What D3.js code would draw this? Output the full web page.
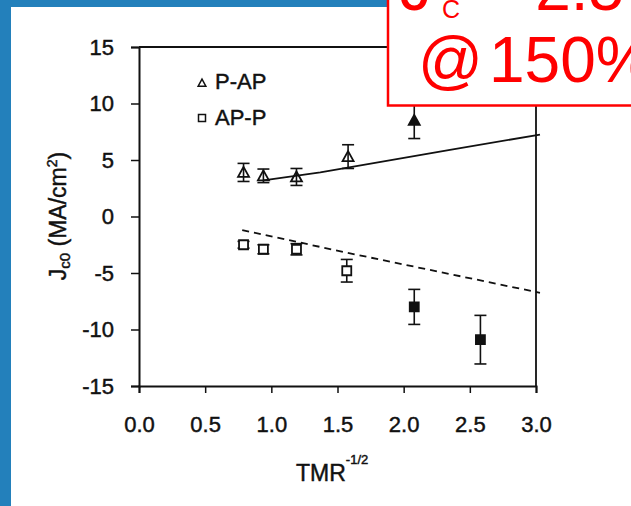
<!DOCTYPE html>
<html>
<head>
<meta charset="utf-8">
<script src="https://cdn.jsdelivr.net/npm/d3@7"></script>
<style>
  body { margin: 0; background: #fff; }
  svg { display: block; }
  text { font-family: "Liberation Sans", Arial, sans-serif; }
  .ink-text { stroke: #111; stroke-width: 0.45px; }
</style>
</head>
<body>
<svg id="chart" width="631" height="506"></svg>
<script>
// Axis ticks
const xTicks = [0, 0.5, 1, 1.5, 2, 2.5, 3];
const yTicks = [-15, -10, -5, 0, 5, 10, 15];

// P-AP switching (triangles): TMR^-1/2, Jc0 (MA/cm^2), error, filled marker
const pApX = [0.79, 0.94, 1.19, 1.58, 2.08];
const pApY = [3.9, 3.6, 3.5, 5.3, 8.5];
const pApErr = [0.8, 0.6, 0.75, 1.05, 1.6];
const pApFilled = [false, false, false, false, true];

// AP-P switching (squares)
const apPX = [0.79, 0.94, 1.19, 1.57, 2.08, 2.58];
const apPY = [-2.5, -2.9, -2.9, -4.8, -8.0, -10.9];
const apPErr = [0.3, 0.4, 0.5, 1.0, 1.55, 2.15];
const apPFilled = [false, false, false, false, true, true];

// Model curves
const pApFitX = [0.94, 1.37, 2.35, 3.03];
const pApFitY = [3.2, 3.9, 5.9, 7.25];
const apPFitX = [0.78, 1.57, 3.03];
const apPFitY = [-1.2, -3.2, -6.75];

const svg = d3.select("#chart");
const W = 631, H = 506;

// Slide background with white panel
svg.append("rect").attr("width", W).attr("height", H).attr("fill", "#2380bb");
svg.append("rect").attr("x", 11).attr("y", 7).attr("width", W - 11).attr("height", H - 7).attr("fill", "#fff");

const x = d3.scaleLinear().domain([0, 3]).range([139, 536]);
const y = d3.scaleLinear().domain([-15, 15]).range([386, 47]);

const ink = "#111";

// Frame (top and right)
svg.append("path")
  .attr("d", `M${x(0)},${y(15)}H${x(3)}V${y(-15)}`)
  .attr("fill", "none").attr("stroke", ink).attr("stroke-width", 1.8);

// Axes (plain hyphen for negative labels)
const yAxis = svg.append("g").attr("transform", `translate(${x(0)},0)`)
  .call(d3.axisLeft(y).tickValues(yTicks).tickSize(8).tickPadding(17).tickFormat(d => String(d)));
const xAxis = svg.append("g").attr("transform", `translate(0,${y(-15)})`)
  .call(d3.axisBottom(x).tickValues(xTicks).tickSize(7).tickPadding(23).tickFormat(d => d.toFixed(1)));
[yAxis, xAxis].forEach(g => {
  g.select(".domain").attr("stroke", ink).attr("stroke-width", 2);
  g.selectAll(".tick line").attr("stroke", ink).attr("stroke-width", 1.5);
  g.selectAll(".tick text").attr("fill", ink).attr("class", "ink-text").style("font-size", "22px")
    .style("font-family", '"Liberation Sans", Arial, sans-serif');
});

// Model curves
const line = d3.line().x(d => x(d[0])).y(d => y(d[1]));
svg.append("path")
  .attr("d", line(d3.zip(pApFitX, pApFitY)))
  .attr("fill", "none").attr("stroke", ink).attr("stroke-width", 1.8);
svg.append("path")
  .attr("d", line(d3.zip(apPFitX, apPFitY)))
  .attr("fill", "none").attr("stroke", ink).attr("stroke-width", 1.8)
  .attr("stroke-dasharray", "7,5");

// Error bars
function errorBars(xs, ys, es) {
  const g = svg.append("g").attr("stroke", ink).attr("stroke-width", 1.6);
  xs.forEach((xv, i) => {
    const cx = x(xv), top = y(ys[i] + es[i]), bot = y(ys[i] - es[i]);
    g.append("line").attr("x1", cx).attr("x2", cx).attr("y1", top).attr("y2", bot);
    g.append("line").attr("x1", cx - 6).attr("x2", cx + 6).attr("y1", top).attr("y2", top);
    g.append("line").attr("x1", cx - 6).attr("x2", cx + 6).attr("y1", bot).attr("y2", bot);
  });
}
errorBars(pApX, pApY, pApErr);
errorBars(apPX, apPY, apPErr);

const triPath = s => `M0,${-s * 0.55}L${s * 0.55},${s * 0.45}L${-s * 0.55},${s * 0.45}Z`;
const sqPath = s => `M${-s / 2},${-s / 2}h${s}v${s}h${-s}Z`;

// Markers
pApX.forEach((xv, i) => {
  svg.append("path").attr("d", triPath(10))
    .attr("transform", `translate(${x(xv)},${y(pApY[i])})`)
    .attr("fill", pApFilled[i] ? ink : "none").attr("stroke", ink).attr("stroke-width", 1.8);
});
apPX.forEach((xv, i) => {
  svg.append("path").attr("d", sqPath(9))
    .attr("transform", `translate(${x(xv)},${y(apPY[i])})`)
    .attr("fill", apPFilled[i] ? ink : "#fff").attr("stroke", ink).attr("stroke-width", 1.8);
});

// Legend
svg.append("path").attr("d", triPath(7)).attr("transform", "translate(202,83)")
  .attr("fill", "none").attr("stroke", ink).attr("stroke-width", 1.5);
svg.append("text").attr("x", 215).attr("y", 89).attr("fill", ink).attr("class", "ink-text")
  .style("font-size", "22px").text("P-AP");
svg.append("path").attr("d", sqPath(7)).attr("transform", "translate(202,118)")
  .attr("fill", "none").attr("stroke", ink).attr("stroke-width", 1.5);
svg.append("text").attr("x", 215).attr("y", 125).attr("fill", ink).attr("class", "ink-text")
  .style("font-size", "22px").text("AP-P");

// Axis titles
const xt = svg.append("text").attr("x", 296).attr("y", 481).attr("fill", ink).attr("class", "ink-text")
  .style("font-size", "23px");
xt.append("tspan").text("TMR");
xt.append("tspan").attr("dy", -17).style("font-size", "13px").text("-1/2");

const yt = svg.append("text").attr("transform", "translate(66,216) rotate(-90)")
  .attr("text-anchor", "middle").attr("fill", ink).attr("class", "ink-text").style("font-size", "23px");
yt.append("tspan").text("J");
yt.append("tspan").attr("dy", 4).style("font-size", "15px").text("c0");
yt.append("tspan").attr("dy", -4).text(" (MA/cm");
yt.append("tspan").attr("dy", -9).style("font-size", "14px").text("2");
yt.append("tspan").attr("dy", 9).text(")");

// Annotation box
const red = "#ff0000";
svg.append("rect").attr("x", 388).attr("y", -20).attr("width", 260).attr("height", 125.5)
  .attr("fill", "#fff").attr("stroke", red).attr("stroke-width", 2.5);
svg.append("text").attr("x", 400).attr("y", 10).attr("fill", red).style("font-size", "64px").text("J");
svg.append("text").attr("x", 442).attr("y", 18).attr("fill", red).style("font-size", "25px").text("C");
svg.append("text").attr("x", 480).attr("y", 10).attr("fill", red).style("font-size", "64px").text("= 2.5");
svg.append("text").attr("x", 418).attr("y", 82).attr("fill", red).style("font-size", "64px").text("@");
svg.append("text").attr("x", 489).attr("y", 82).attr("fill", red).style("font-size", "64px").text("150%");
</script>
</body>
</html>
